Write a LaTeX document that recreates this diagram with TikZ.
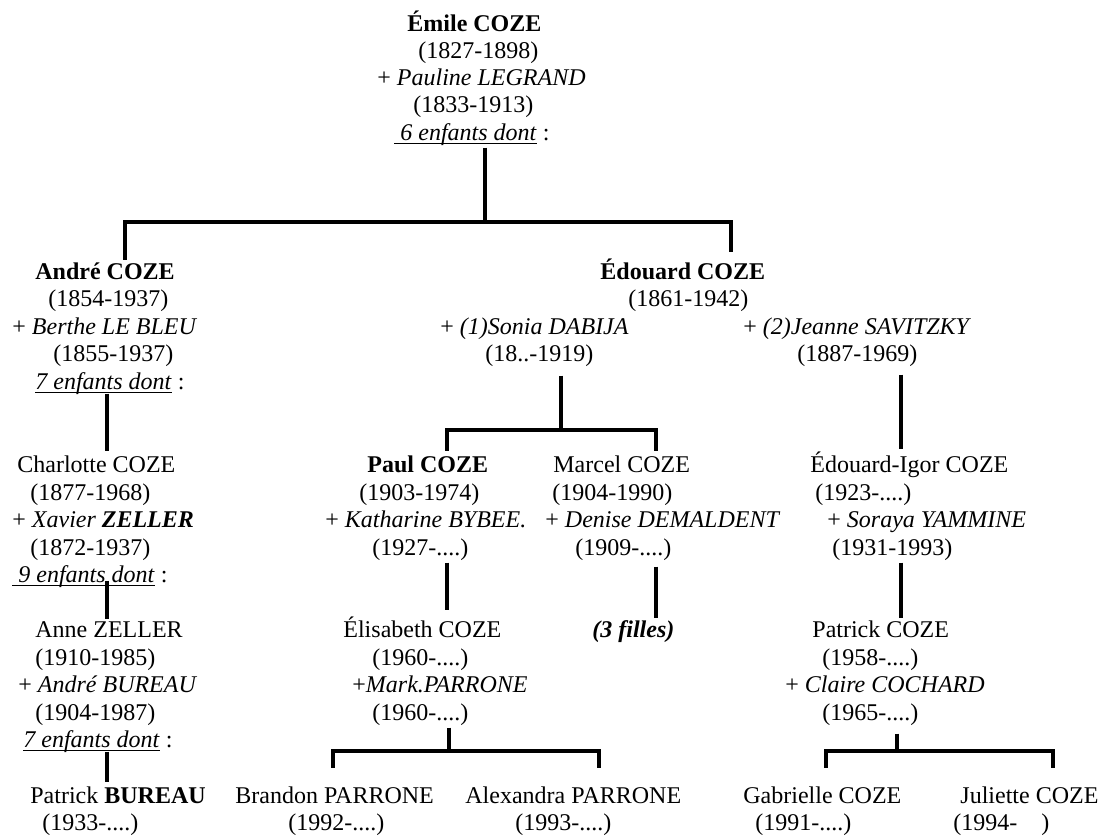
\documentclass[tikz,border=0pt]{standalone}
\usepackage{fontspec}
\setmainfont{Liberation Serif}
\newlength\ulwd
\newcommand\ulin[1]{\settowidth{\ulwd}{#1}\rlap{\rule[-1.75pt]{\ulwd}{0.5pt}}#1}
\tikzset{
  txt/.style={anchor=base west, inner xsep=0pt, inner ysep=1pt, font=\fontsize{12}{14}\selectfont},
  tree/.style={ultra thick}
}

\begin{document}
\begin{tikzpicture}[x=0.5pt, y=-0.5pt]
\useasboundingbox (0,0) rectangle (1102,836);

\node[txt] (e1) at (407,31) {\textbf{Émile COZE}};
\node[txt] (e2) at (418,58) {(1827-1898)};
\node[txt] (e3) at (377,85) {+ \textit{Pauline LEGRAND}};
\node[txt] (e4) at (413,112) {(1833-1913)};
\node[txt] (e5) at (394,140) {\ulin{\ \textit{6 enfants dont}} :};

\node[txt] (a1) at (35,279) {\textbf{André COZE}};
\node[txt] (a2) at (48,306) {(1854-1937)};
\node[txt] (a3) at (12,334) {+ \textit{Berthe LE BLEU}};
\node[txt] (a4) at (53,361) {(1855-1937)};
\node[txt] (a5) at (35,389) {\ulin{\textit{7 enfants dont}} :};

\node[txt] (c1) at (17,472) {Charlotte COZE};
\node[txt] (c2) at (30,500) {(1877-1968)};
\node[txt] (c3) at (12,527) {+ \textit{Xavier \textbf{ZELLER}}};
\node[txt] (c4) at (30,555) {(1872-1937)};
\node[txt] (c5) at (12,582) {\ulin{\ \textit{9 enfants dont}} :};

\node[txt] (n1) at (35,637) {Anne ZELLER};
\node[txt] (n2) at (35,665) {(1910-1985)};
\node[txt] (n3) at (18,692) {+ \textit{André BUREAU}};
\node[txt] (n4) at (35,720) {(1904-1987)};
\node[txt] (n5) at (23,747) {\ulin{\textit{7 enfants dont}} :};

\node[txt] (p1) at (30,803) {Patrick \textbf{BUREAU}};
\node[txt] (p2) at (42,830) {(1933-....)};

\node[txt] (d1) at (600,279) {\textbf{Édouard COZE}};
\node[txt] (d2) at (628,306) {(1861-1942)};
\node[txt] (d3) at (440,334) {+ \textit{(1)Sonia DABIJA}};
\node[txt] (d4) at (485,361) {(18..-1919)};
\node[txt] (d5) at (743,334) {+ \textit{(2)Jeanne SAVITZKY}};
\node[txt] (d6) at (797,361) {(1887-1969)};

\node[txt] (u1) at (367,472) {\textbf{Paul COZE}};
\node[txt] (u2) at (359,500) {(1903-1974)};
\node[txt] (u3) at (325,527) {+ \textit{Katharine BYBEE.}};
\node[txt] (u4) at (372,555) {(1927-....)};

\node[txt] (m1) at (553,472) {Marcel COZE};
\node[txt] (m2) at (552,500) {(1904-1990)};
\node[txt] (m3) at (545,527) {+ \textit{Denise DEMALDENT}};
\node[txt] (m4) at (575,555) {(1909-....)};
\node[txt] (f1) at (592,637) {\textbf{\textit{(3 filles)}}};

\node[txt] (i1) at (810,472) {Édouard-Igor COZE};
\node[txt] (i2) at (815,500) {(1923-....)};
\node[txt] (i3) at (827,527) {+ \textit{Soraya YAMMINE}};
\node[txt] (i4) at (832,555) {(1931-1993)};

\node[txt] (l1) at (343,637) {Élisabeth COZE};
\node[txt] (l2) at (372,665) {(1960-....)};
\node[txt] (l3) at (352,692) {+\textit{Mark.PARRONE}};
\node[txt] (l4) at (372,720) {(1960-....)};

\node[txt] (k1) at (812,637) {Patrick COZE};
\node[txt] (k2) at (822,665) {(1958-....)};
\node[txt] (k3) at (785,692) {+ \textit{Claire COCHARD}};
\node[txt] (k4) at (822,720) {(1965-....)};

\node[txt] (g1) at (235,803) {Brandon PARRONE};
\node[txt] (g2) at (288,830) {(1992-....)};
\node[txt] (h1) at (465,803) {Alexandra PARRONE};
\node[txt] (h2) at (515,830) {(1993-....)};
\node[txt] (q1) at (743,803) {Gabrielle COZE};
\node[txt] (q2) at (755,830) {(1991-....)};
\node[txt] (j1) at (960,803) {Juliette COZE};
\node[txt] (j2) at (953,830) {(1994-\hspace{12pt})};

\coordinate (t0) at (485,222);
\coordinate (tl) at (125,222);
\coordinate (tr) at (731,222);
\coordinate (ax) at (107,0);
\coordinate (s0) at (561,430);
\coordinate (sl) at (447,430);
\coordinate (sr) at (656,430);
\coordinate (jx) at (901,0);
\coordinate (r0) at (449,751);
\coordinate (rl) at (333,751);
\coordinate (rr) at (599,751);
\coordinate (q0) at (897,751);
\coordinate (ql) at (826,751);
\coordinate (qr) at (1053,751);

\draw[tree] (e5.south -| t0) -- (t0);
\draw[tree, shorten >=2pt] (a1.north -| tl) -- (tl) -- (tr) -- (d1.north -| tr);

\draw[tree, shorten <=-1.5pt, shorten >=1pt] (a5.south -| ax) -- (c1.north -| ax);
\draw[tree, shorten <=-4.5pt] (c5.south -| ax) -- (n1.north -| ax);
\draw[tree, shorten <=-1.5pt, shorten >=1pt] (n5.south -| ax) -- (p1.north -| ax);

\draw[tree, shorten <=3.5pt] (d4.south -| s0) -- (s0);
\draw[tree, shorten <=1pt, shorten >=1pt] (u1.north -| sl) -- (sl) -- (sr) -- (m1.north -| sr);
\draw[tree, shorten <=3pt] (d6.south -| jx) -- (i1.north -| jx);

\draw[tree, shorten >=2pt] (u4.south -| sl) -- (l1.north -| sl);
\draw[tree, shorten <=2pt] (m4.south -| sr) -- (f1.north -| sr);
\draw[tree] (i4.south -| jx) -- (k1.north -| jx);

\draw[tree] (l4.south -| r0) -- (r0);
\draw[tree, shorten <=8pt, shorten >=8pt] (g1.north -| rl) -- (rl) -- (rr) -- (h1.north -| rr);
\draw[tree, shorten <=3pt] (k4.south -| q0) -- (q0);
\draw[tree, shorten <=8pt, shorten >=8pt] (q1.north -| ql) -- (ql) -- (qr) -- (j1.north -| qr);
\end{tikzpicture}
\end{document}
